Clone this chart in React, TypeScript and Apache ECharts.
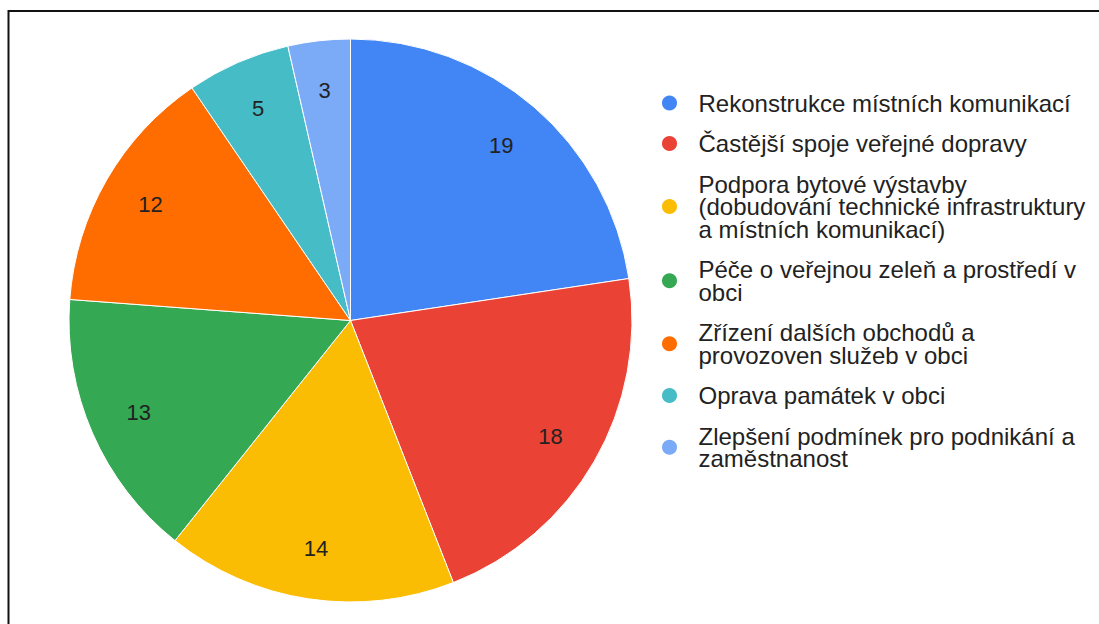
import React, { useEffect, useRef } from "react";
import * as echarts from "echarts";

const categories = [
  "Rekonstrukce místních komunikací",
  "Častější spoje veřejné dopravy",
  "Podpora bytové výstavby (dobudování technické infrastruktury a místních komunikací)",
  "Péče o veřejnou zeleň a prostředí v obci",
  "Zřízení dalších obchodů a provozoven služeb v obci",
  "Oprava památek v obci",
  "Zlepšení podmínek pro podnikání a zaměstnanost",
];

const legendLabels = [
  "Rekonstrukce místních komunikací",
  "Častější spoje veřejné dopravy",
  "Podpora bytové výstavby\n(dobudování technické infrastruktury\na místních komunikací)",
  "Péče o veřejnou zeleň a prostředí v\nobci",
  "Zřízení dalších obchodů a\nprovozoven služeb v obci",
  "Oprava památek v obci",
  "Zlepšení podmínek pro podnikání a\nzaměstnanost",
];

const values = [19, 18, 14, 13, 12, 5, 3];

const colors = ["#4285F4", "#EA4335", "#FBBC04", "#34A853", "#FF6D01", "#46BDC6", "#7BAAF7"];

const FONT = "'Liberation Sans', Arial, Helvetica, sans-serif";

export default function App() {
  const ref = useRef<HTMLDivElement>(null);
  useEffect(() => {
    if (!ref.current) return;
    const chart = echarts.init(ref.current, undefined, { renderer: "svg" });
    const R = 281.5;
    const data = categories.map((name, i) => ({ name, value: values[i], itemStyle: { color: colors[i] } }));
    chart.setOption({
      animation: false,
      textStyle: { fontFamily: FONT },
      graphic: [
        {
          type: "rect",
          shape: { x: 8.5, y: 11, width: 1200, height: 800 },
          style: { fill: "none", stroke: "#111", lineWidth: 2 },
          silent: true,
        },
      ],
      legend: {
        orient: "vertical",
        left: 655,
        top: 86,
        itemWidth: 48,
        itemHeight: 17,
        itemGap: 16.5,
        icon: "circle",
        data: categories,
        selectedMode: false,
        formatter: (name: string) => legendLabels[categories.indexOf(name)],
        textStyle: { fontFamily: FONT, fontSize: 24, lineHeight: 22.5, color: "#222" },
      },
      series: [
        {
          type: "pie",
          center: [350.5, 320.5],
          radius: [0, R],
          startAngle: 90,
          clockwise: true,
          silent: true,
          label: { show: false },
          labelLine: { show: false },
          itemStyle: { borderColor: "#fff", borderWidth: 1 },
          data,
        },
        {
          type: "pie",
          center: [350.5, 320.5],
          radius: [R * 0.62, R],
          startAngle: 90,
          clockwise: true,
          silent: true,
          legendHoverLink: false,
          itemStyle: { color: "rgba(0,0,0,0)", borderWidth: 0 },
          label: {
            show: true,
            position: "inside",
            formatter: "{c}",
            color: "#222",
            fontSize: 22,
            fontFamily: FONT,
          },
          labelLine: { show: false },
          data: categories.map((name, i) => ({ name, value: values[i] })),
        },
      ],
    });
    return () => chart.dispose();
  }, []);
  return (
    <div
      ref={ref}
      style={{ position: "absolute", left: 0, top: 0, width: 1099, height: 624, background: "#fff" }}
    />
  );
}
